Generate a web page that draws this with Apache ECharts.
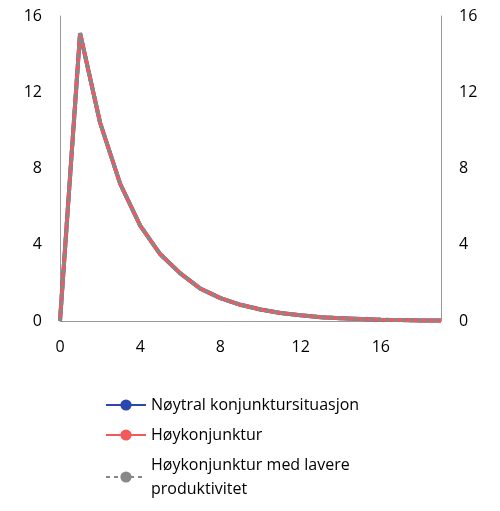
<!DOCTYPE html>
<html>
<head>
<meta charset="UTF-8">
<script src="https://cdn.jsdelivr.net/npm/echarts@6/dist/echarts.min.js"></script>
<style>body{margin:0;background:#fff}#chart{width:500px;height:511px}</style>
</head>
<body>
<div id="chart"></div>
<script>
const years = [0,1,2,3,4,5,6,7,8,9,10,11,12,13,14,15,16,17,18,19];
const noytral = [0,15.1,10.4,7.2,5.0,3.5,2.5,1.7,1.2,0.85,0.6,0.42,0.3,0.2,0.15,0.1,0.07,0.05,0.03,0.02];
const hoy = noytral.slice();
const hoyLav = noytral.slice();
const names = ['Nøytral konjunktursituasjon','Høykonjunktur','Høykonjunktur med lavere\nproduktivitet'];
const pair = a => a.map((v,i)=>[years[i],v]);
const font = 'Open Sans';
const chart = echarts.init(document.getElementById('chart'));
const yAxisBase = {type:'value',min:0,max:16,interval:4,splitLine:{show:false},axisTick:{show:false},
  axisLabel:{color:'#000',fontSize:16,fontFamily:font,margin:18}};
chart.setOption({
  animation:false,
  grid:{left:60,right:59,top:16,bottom:190},
  xAxis:{type:'value',min:0,max:19,interval:4,splitLine:{show:false},axisTick:{show:false},
    axisLine:{lineStyle:{color:'#999'}},axisLabel:{color:'#000',fontSize:16,fontFamily:font,margin:18,
    formatter:v=>v>18?'':v}},
  yAxis:[Object.assign({position:'left',axisLine:{show:true,lineStyle:{color:'#999'}}},yAxisBase),
         Object.assign({position:'right',axisLine:{show:true,lineStyle:{color:'#999'}}},yAxisBase)],
  legend:{orient:'vertical',left:100,top:388,width:380,height:120,itemWidth:40,itemHeight:14,itemGap:6,
    textStyle:{fontSize:16,fontFamily:font,color:'#000',lineHeight:24},data:names},
  series:[
    {name:names[0],type:'line',data:pair(noytral),symbol:'none',lineStyle:{color:'#2a47b0',width:4},itemStyle:{color:'#2a47b0'}},
    {name:names[1],type:'line',data:pair(hoy),symbol:'none',lineStyle:{color:'#f05a5a',width:4},itemStyle:{color:'#f05a5a'}},
    {name:names[2],type:'line',data:pair(hoyLav),symbol:'none',lineStyle:{color:'#888',width:4,type:[4,4]},itemStyle:{color:'#888'}}
  ]
});
</script>
</body>
</html>
